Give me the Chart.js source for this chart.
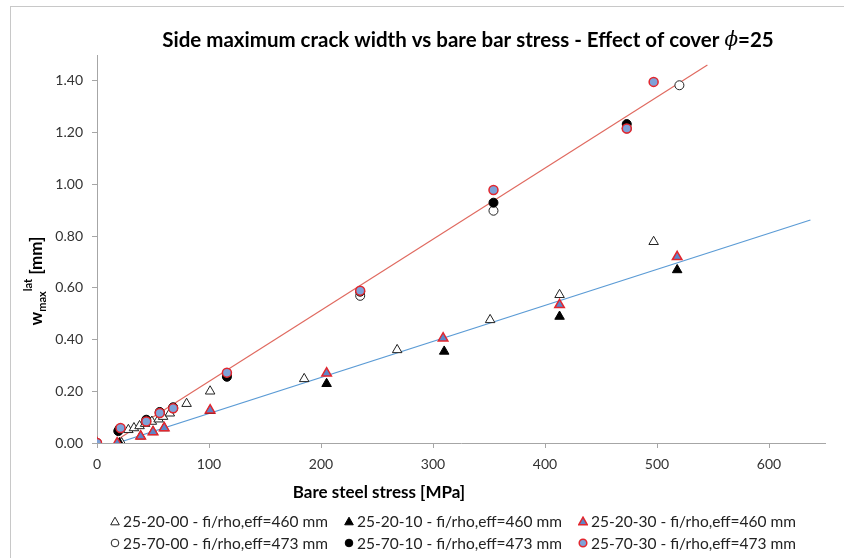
<!DOCTYPE html>
<html>
<head>
<meta charset="utf-8">
<script src="https://cdn.jsdelivr.net/npm/chart.js@4.4.1/dist/chart.umd.min.js"></script>
<style>
  body { margin: 0; background: #fff; font-family: Lato, 'Open Sans', sans-serif; }
  #frame { position: absolute; left: 10px; top: 6px; width: 900px; height: 600px; border: 1px solid #c8c8c8; }
  #wrap { position: absolute; left: 0; top: 0; width: 844px; height: 558px; }
  #legend { position: absolute; left: 110px; top: 510px; display: grid;
            grid-template-columns: repeat(3, 234px); grid-auto-rows: 22px;
            font-size: 15.5px; color: #222; }
  #legend div { display: flex; align-items: center; white-space: nowrap; }
  #legend svg { flex-shrink: 0; margin-right: 3px; }
</style>
</head>
<body>
<div id="frame"></div>
<div id="wrap"><canvas id="crackChart"></canvas></div>
<div id="legend"></div>
<script>
// legend names
const seriesNames = [
  "25-20-00 - fi/rho,eff=460 mm",
  "25-20-10 - fi/rho,eff=460 mm",
  "25-20-30 - fi/rho,eff=460 mm",
  "25-70-00 - fi/rho,eff=473 mm",
  "25-70-10 - fi/rho,eff=473 mm",
  "25-70-30 - fi/rho,eff=473 mm"
];

// bare steel stress [MPa] and side max crack width [mm] per specimen
const s2000 = [22, 28, 33, 38, 43, 49, 55, 59, 65, 80, 101, 185, 268, 351, 413, 497];
const w2000 = [0, 0.051, 0.058, 0.066, 0.075, 0.083, 0.092, 0.102, 0.115, 0.152, 0.200, 0.248, 0.360, 0.476, 0.573, 0.778];

const s2010 = [20, 39, 50, 60, 101, 205, 310, 413, 518];
const w2010 = [0, 0.026, 0.043, 0.058, 0.125, 0.229, 0.354, 0.489, 0.669];

const s2030 = [0, 18, 39, 50, 60, 101, 205, 309, 413, 518];
const w2030 = [0, 0, 0.026, 0.043, 0.058, 0.127, 0.270, 0.405, 0.534, 0.720];

const s7000 = [0, 20, 44, 56, 68, 116, 235, 354, 473, 520];
const w7000 = [0, 0.055, 0.083, 0.116, 0.134, 0.265, 0.569, 0.898, 1.216, 1.383];

const s7010 = [0, 19, 44, 56, 68, 116, 235, 354, 473];
const w7010 = [0, 0.046, 0.090, 0.120, 0.138, 0.256, 0.585, 0.929, 1.233];

const s7030 = [0, 21, 44, 56, 68, 116, 235, 354, 473, 497];
const w7030 = [0, 0.058, 0.083, 0.116, 0.134, 0.272, 0.589, 0.978, 1.216, 1.396];

// linear trendlines (end points)
const trend70x = [18, 545];
const trend70y = [0.013, 1.461];
const trend20x = [18, 637];
const trend20y = [0, 0.862];

// axis ticks
const xTicks = [0, 100, 200, 300, 400, 500, 600];
const yTicks = [0, 0.2, 0.4, 0.6, 0.8, 1.0, 1.2, 1.4];

function pts(xs, ys) {
  return xs.map((x, i) => ({ x: x, y: ys[i] }));
}

const FONT = "Lato, 'Open Sans', sans-serif";
const BLUE = "#7ea2d8";
const RED = "#e3262e";

// titles drawn straight on the canvas so they can sit where the original has them
const textPlugin = {
  id: "chartText",
  afterDraw(chart) {
    const ctx = chart.ctx;
    ctx.save();
    ctx.fillStyle = "#000";
    ctx.textBaseline = "middle";
    ctx.textAlign = "left";

    // main title
    const t1 = "Side maximum crack width vs bare bar stress - Effect of cover ";
    const t2 = "ϕ";
    const t3 = "=25";
    ctx.font = "bold 20.5px " + FONT;
    const w1 = ctx.measureText(t1).width;
    const w3 = ctx.measureText(t3).width;
    ctx.font = "italic 20px 'DejaVu Serif', serif";
    const w2 = ctx.measureText(t2).width;
    let x = 468 - (w1 + w2 + w3) / 2;
    ctx.font = "bold 20.5px " + FONT;
    ctx.fillText(t1, x, 40);
    x += w1;
    ctx.font = "italic 20px 'DejaVu Serif', serif";
    ctx.fillText(t2, x, 41);
    x += w2;
    ctx.font = "bold 20.5px " + FONT;
    ctx.fillText(t3, x, 40);

    // x axis title
    ctx.font = "bold 17px " + FONT;
    ctx.textAlign = "center";
    ctx.fillText("Bare steel stress [MPa]", 379, 493);

    // y axis title  w_max^lat [mm]
    ctx.translate(36, 281);
    ctx.rotate(-Math.PI / 2);
    ctx.textAlign = "left";
    ctx.textBaseline = "alphabetic";
    const big = "bold 17px " + FONT;
    const small = "bold 11px " + FONT;
    ctx.font = big;
    const ww = ctx.measureText("w").width;
    const mmw = ctx.measureText(" [mm]").width;
    ctx.font = small;
    const subw = ctx.measureText("max").width;
    const supw = ctx.measureText("lat").width;
    let yx = -(ww + subw + supw + mmw) / 2;
    ctx.font = big;
    ctx.fillText("w", yx, 6);
    yx += ww;
    ctx.font = small;
    ctx.fillText("max", yx, 10);
    yx += subw;
    ctx.fillText("lat", yx, -4);
    yx += supw;
    ctx.font = big;
    ctx.fillText(" [mm]", yx, 6);
    ctx.restore();
  }
};

// html legend in three columns like the original
const htmlLegend = {
  id: "htmlLegend",
  afterUpdate(chart) {
    const box = document.getElementById("legend");
    box.innerHTML = "";
    chart.data.datasets.slice(0, 6).forEach((ds) => {
      const item = document.createElement("div");
      const fill = ds.backgroundColor;
      const stroke = ds.borderColor;
      const sw = ds.borderWidth;
      const shape = ds.pointStyle === "triangle"
        ? '<polygon points="5,1.2 9.3,8.8 0.7,8.8" fill="' + fill + '" stroke="' + stroke + '" stroke-width="' + sw + '"/>'
        : '<circle cx="5" cy="5" r="3.8" fill="' + fill + '" stroke="' + stroke + '" stroke-width="' + sw + '"/>';
      item.innerHTML = '<svg width="10" height="10">' + shape + '</svg><span>' + ds.label + '</span>';
      box.appendChild(item);
    });
  }
};

const ctx = document.getElementById("crackChart").getContext("2d");

new Chart(ctx, {
  type: "scatter",
  data: {
    datasets: [
      {
        label: seriesNames[0],
        data: pts(s2000, w2000),
        pointStyle: "triangle",
        pointRadius: 5.5,
        backgroundColor: "#ffffff",
        borderColor: "#222222",
        borderWidth: 1,
        order: 6
      },
      {
        label: seriesNames[1],
        data: pts(s2010, w2010),
        pointStyle: "triangle",
        pointRadius: 5.5,
        backgroundColor: "#000000",
        borderColor: "#000000",
        borderWidth: 1,
        order: 5
      },
      {
        label: seriesNames[2],
        data: pts(s2030, w2030),
        pointStyle: "triangle",
        pointRadius: 5.5,
        backgroundColor: "#5b86c9",
        borderColor: RED,
        borderWidth: 1.5,
        order: 4
      },
      {
        label: seriesNames[3],
        data: pts(s7000, w7000),
        pointStyle: "circle",
        pointRadius: 4.5,
        backgroundColor: "#ffffff",
        borderColor: "#222222",
        borderWidth: 1,
        order: 3
      },
      {
        label: seriesNames[4],
        data: pts(s7010, w7010),
        pointStyle: "circle",
        pointRadius: 4.5,
        backgroundColor: "#000000",
        borderColor: "#000000",
        borderWidth: 1,
        order: 2
      },
      {
        label: seriesNames[5],
        data: pts(s7030, w7030),
        pointStyle: "circle",
        pointRadius: 4.5,
        backgroundColor: BLUE,
        borderColor: RED,
        borderWidth: 1.5,
        order: 1
      },
      {
        label: "trend 70",
        data: pts(trend70x, trend70y),
        showLine: true,
        pointRadius: 0,
        borderColor: "#e06a60",
        borderWidth: 1.2,
        order: 10
      },
      {
        label: "trend 20",
        data: pts(trend20x, trend20y),
        showLine: true,
        pointRadius: 0,
        borderColor: "#5b9bd5",
        borderWidth: 1.2,
        order: 11
      }
    ]
  },
  options: {
    responsive: true,
    maintainAspectRatio: false,
    animation: false,
    layout: {
      padding: { left: 20, right: 19, top: 55, bottom: 75 }
    },
    scales: {
      x: {
        type: "linear",
        min: 0,
        max: 650,
        afterBuildTicks: (scale) => {
          scale.ticks = xTicks.map((v) => ({ value: v }));
        },
        afterFit: (scale) => {
          scale.height = 40;
        },
        grid: {
          drawOnChartArea: false,
          tickLength: 5,
          color: "#a6a6a6"
        },
        border: { color: "#a6a6a6" },
        ticks: {
          padding: 8,
          color: "#333",
          font: { family: FONT, size: 14 }
        }
      },
      y: {
        type: "linear",
        min: 0,
        max: 1.5,
        afterBuildTicks: (scale) => {
          scale.ticks = yTicks.map((v) => ({ value: v }));
        },
        afterFit: (scale) => {
          scale.width = 77;
        },
        grid: {
          drawOnChartArea: false,
          tickLength: 5,
          color: "#a6a6a6"
        },
        border: { color: "#a6a6a6" },
        ticks: {
          padding: 9,
          color: "#333",
          font: { family: FONT, size: 14 },
          callback: (v) => Number(v).toFixed(2)
        }
      }
    },
    plugins: {
      title: { display: false },
      tooltip: { enabled: false },
      legend: { display: false }
    }
  },
  plugins: [textPlugin, htmlLegend]
});
</script>
</body>
</html>
